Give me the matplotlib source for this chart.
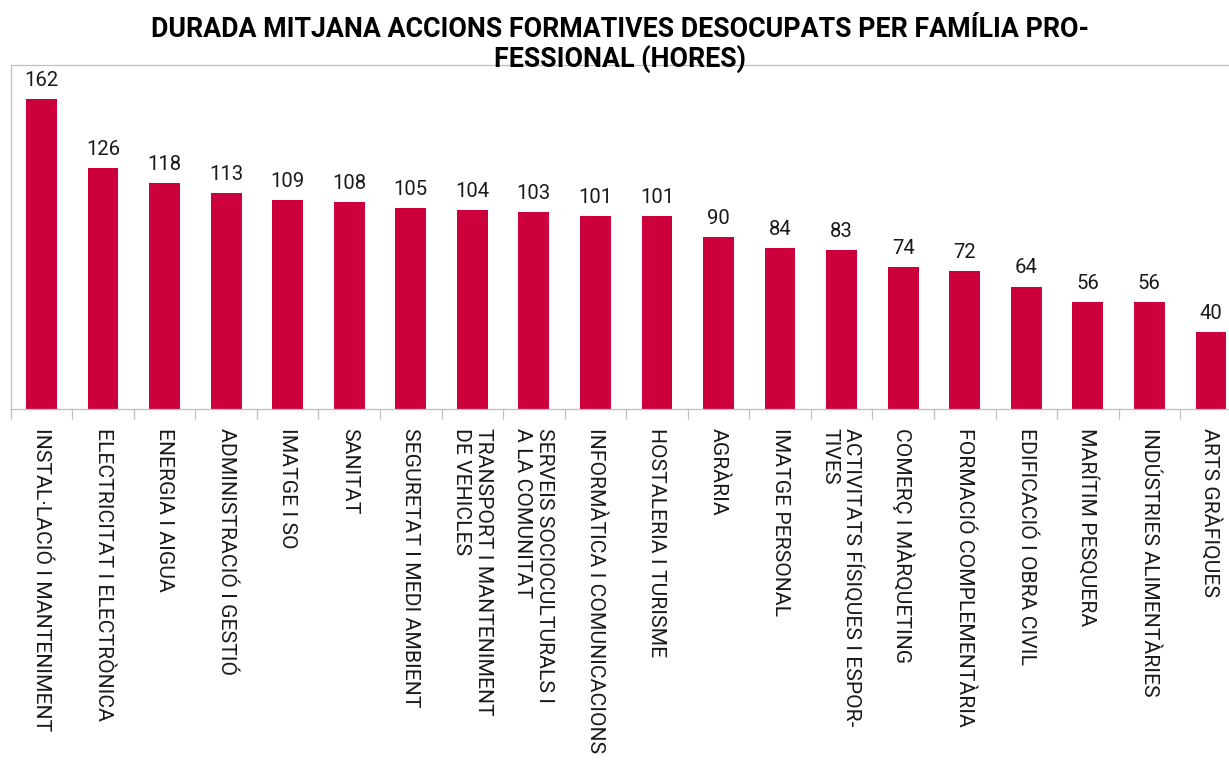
import numpy as np
import matplotlib
matplotlib.use("Agg")
import matplotlib.pyplot as plt

# Data
families = [
    "INSTAL·LACIÓ I MANTENIMENT",
    "ELECTRICITAT I ELECTRÒNICA",
    "ENERGIA I AIGUA",
    "ADMINISTRACIÓ I GESTIÓ",
    "IMATGE I SO",
    "SANITAT",
    "SEGURETAT I MEDI AMBIENT",
    "TRANSPORT I MANTENIMENT\nDE VEHICLES",
    "SERVEIS SOCIOCULTURALS I\nA LA COMUNITAT",
    "INFORMÀTICA I COMUNICACIONS",
    "HOSTALERIA I TURISME",
    "AGRÀRIA",
    "IMATGE PERSONAL",
    "ACTIVITATS FÍSIQUES I ESPOR-\nTIVES",
    "COMERÇ I MÀRQUETING",
    "FORMACIÓ COMPLEMENTÀRIA",
    "EDIFICACIÓ I OBRA CIVIL",
    "MARÍTIM PESQUERA",
    "INDÚSTRIES ALIMENTÀRIES",
    "ARTS GRÀFIQUES",
]
hours = [162, 126, 118, 113, 109, 108, 105, 104, 103, 101,
         101, 90, 84, 83, 74, 72, 64, 56, 56, 40]

title_line1 = "DURADA MITJANA ACCIONS FORMATIVES DESOCUPATS PER FAMÍLIA PRO-"
title_line2 = "FESSIONAL (HORES)"

bar_color = "#CC003D"
frame_color = "#BFBFBF"
text_color = "#1A1A1A"
fam = ["Roboto", "DejaVu Sans"]

fig = plt.figure(figsize=(12.29, 7.69), dpi=100)
ax = fig.add_axes([10.7 / 1229, 360 / 769, 1231 / 1229, 344.5 / 769])

x = np.arange(len(families))
ax.bar(x, hours, width=0.5, color=bar_color, zorder=2)

for xi, v in zip(x, hours):
    ax.annotate(str(v), (xi, v), xytext=(0, 9.4), textcoords="offset points",
                ha="center", va="baseline", fontsize=14.6,
                family=fam, color=text_color)

ax.set_xlim(-0.5, len(families) - 0.5)
ax.set_ylim(0, 180)
ax.set_yticks([])

ax.set_xticks(x)
ax.set_xticklabels(families, rotation=270, ha="center", va="top",
                   multialignment="left", fontsize=15, family=fam,
                   color=text_color)
ax.tick_params(axis="x", which="major", length=0, pad=13.7)
ax.set_xticks(np.arange(-0.5, len(families), 1.0), minor=True)
ax.tick_params(axis="x", which="minor", length=7.2, width=0.9,
               color=frame_color)

for s in ax.spines.values():
    s.set_color(frame_color)
    s.set_linewidth(0.9)

t1 = fig.text(620 / 1229, 1 - 37 / 769, title_line1, ha="center",
              va="baseline", fontsize=18, fontweight="bold", family=fam,
              color="black")
t2 = fig.text(620 / 1229, 1 - 67 / 769, title_line2, ha="center",
              va="baseline", fontsize=18, fontweight="bold", family=fam,
              color="black")

# fit text sizes to the lengths seen in the reference
renderer = fig.canvas.get_renderer()
lab0 = ax.get_xticklabels()[0]
scale = 303 / lab0.get_window_extent(renderer).height
for lab in ax.get_xticklabels():
    lab.set_fontsize(15 * scale)
tscale = 940 / t1.get_window_extent(renderer).width
t1.set_fontsize(18 * tscale)
t2.set_fontsize(18 * tscale)

fig.savefig("out.png", dpi=100)
